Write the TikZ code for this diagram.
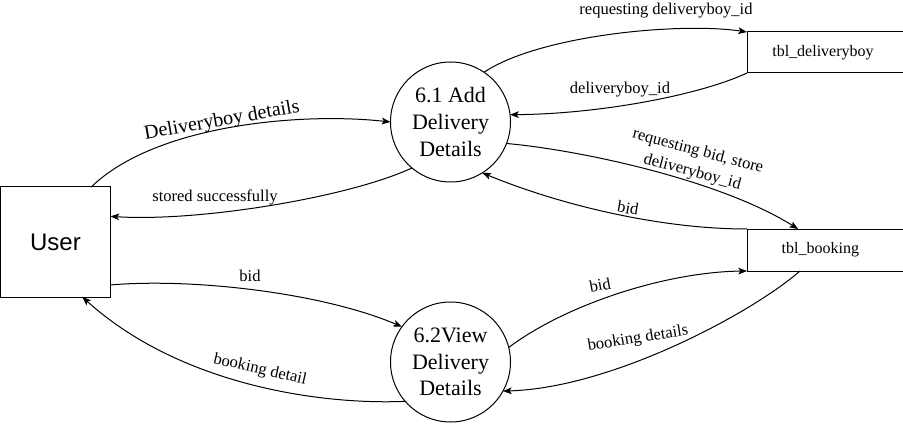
\documentclass[tikz,border=0pt]{standalone}
\usepackage{fontspec}
\setmainfont{Liberation Serif}
\newfontfamily\usersans{Liberation Sans}
\usetikzlibrary{arrows.meta,calc}
\begin{document}
\begin{tikzpicture}[x=0.75pt,y=0.75pt,
  lbl/.style={font=\fontsize{12.4}{15}\selectfont, inner sep=0pt, align=center},
  biglbl/.style={font=\fontsize{15}{17}\selectfont, inner sep=0pt},
  flow/.style={line width=0.75pt, -{Stealth[length=6.5pt,width=5pt,inset=1.5pt]}},
  proc/.style={circle, draw, line width=0.75pt, minimum size=90pt, inner sep=0pt, outer sep=0pt, align=center, font=\fontsize{16.5}{20}\selectfont},
  ent/.style={draw, line width=0.75pt, minimum width=82.5pt, minimum height=82.5pt, inner sep=0pt, outer sep=0pt, font=\usersans\fontsize{18}{20}\selectfont},
  store/.style={minimum width=117pt, inner sep=0pt, outer sep=0pt, font=\fontsize{12}{14}\selectfont},
  storeline/.style={line width=0.75pt}
  ]
\useasboundingbox (0,0) rectangle (903,-424);

\node[ent] (u) at (55.5,-242) {User};
\node[proc] (c1) at (450.5,-122) {6.1 Add\\Delivery\\Details};
\node[proc] (c2) at (450.5,-362) {6.2View\\Delivery\\Details};
\node[store, minimum height=30.75pt] (s1) at (825,-52.5) {\hspace*{-3pt}tbl\_deliveryboy};
\node[store, minimum height=31.5pt] (s2) at (825,-250) {\hspace*{-7pt}tbl\_booking};
\draw[storeline] (s1.north east) -- (s1.north west) -- (s1.south west) -- (s1.south east);
\draw[storeline] (s2.north east) -- (s2.north west) -- (s2.south west) -- (s2.south east);

\draw[flow] (u.57) .. controls (155,-125) and (300,-112) .. (c1.180);
\draw[flow] (c1.230) .. controls (350,-197) and (200,-222) .. (u.25);
\draw[flow] (c1.56) .. controls (540,-35) and (680,-22) .. (s1.north west);
\draw[flow] (s1.south west) .. controls (700,-95) and (600,-114) .. (c1.7);
\draw[flow] (c1.-21) .. controls (580,-150) and (720,-180) .. (s2.142);
\draw[flow] (s2.north west) .. controls (660,-229) and (560,-205) .. (c1.-58);
\draw[flow] (u.-38) .. controls (190,-278) and (320,-292) .. (c2.144);
\draw[flow] (c2.221) .. controls (320,-405) and (180,-385) .. (u.-64);
\draw[flow] (c2.14) .. controls (565,-305) and (665,-272) .. (s2.south west);
\draw[flow] (s2.220) .. controls (752,-313) and (612,-388) .. (c2.-29);

\node[biglbl, rotate=10] (l1) at (222,-121) {Deliveryboy details};
\node[lbl] (l2) at (215,-197) {stored successfully};
\node[lbl] (l3) at (666,-11) {requesting deliveryboy\_id};
\node[lbl] (l4) at (620,-90) {deliveryboy\_id};
\node[lbl, rotate=-15, font=\fontsize{12.4}{16.2}\selectfont] (l5) at (695,-162) {requesting bid, store\\deliveryboy\_id};
\node[lbl, rotate=-10] (l6) at (628,-208) {bid};
\node[lbl] (l7) at (250,-276) {bid};
\node[lbl, rotate=-13] (l8) at (260,-370) {booking detail};
\node[lbl, rotate=10] (l9) at (600,-285) {bid};
\node[lbl, rotate=9] (l10) at (638,-339) {booking details};
\end{tikzpicture}
\end{document}
